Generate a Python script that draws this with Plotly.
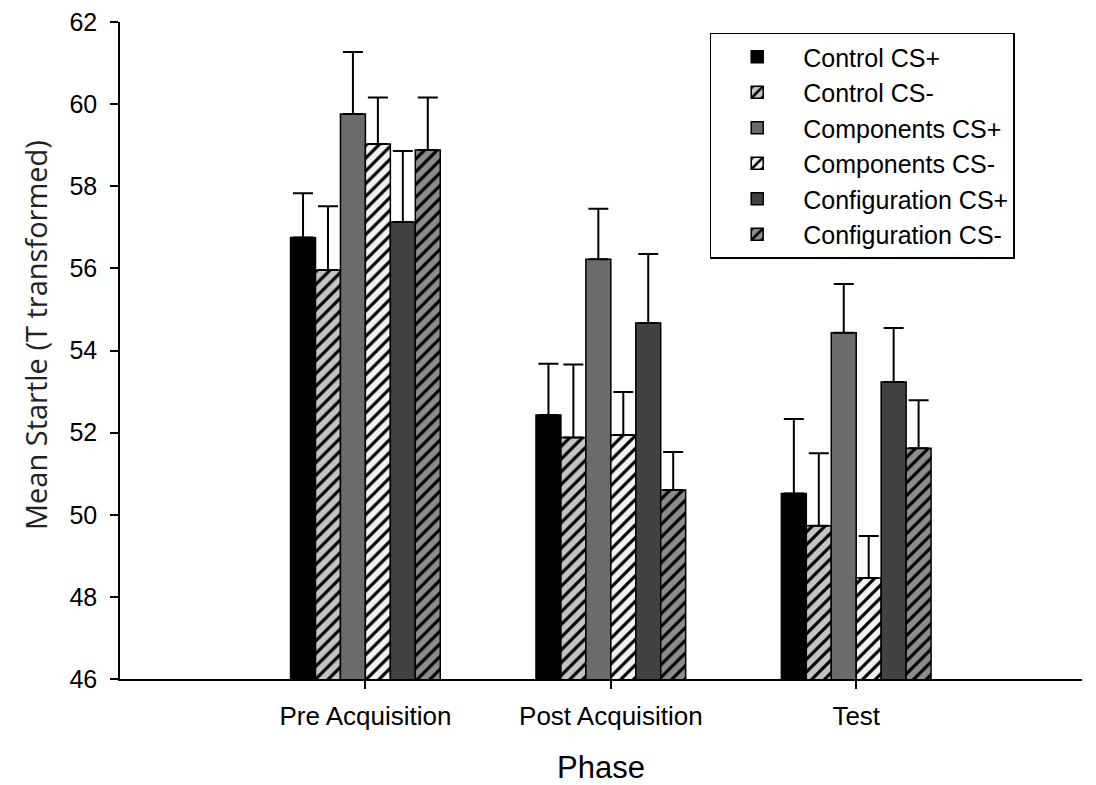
import plotly.graph_objects as go

phases = ["Pre Acquisition", "Post Acquisition", "Test"]
phase_pos = [0, 1, 2]

series_names = ["Control CS+", "Control CS-", "Components CS+",
                "Components CS-", "Configuration CS+", "Configuration CS-"]

control_cs_plus = [56.75, 52.43, 50.52]
control_cs_minus = [55.96, 51.88, 49.73]
components_cs_plus = [59.76, 56.22, 54.43]
components_cs_minus = [59.03, 51.94, 48.46]
configuration_cs_plus = [57.13, 54.67, 53.23]
configuration_cs_minus = [58.88, 50.60, 51.62]

control_cs_plus_err = [1.08, 1.25, 1.81]
control_cs_minus_err = [1.55, 1.78, 1.77]
components_cs_plus_err = [1.51, 1.23, 1.19]
components_cs_minus_err = [1.13, 1.05, 1.02]
configuration_cs_plus_err = [1.73, 1.68, 1.32]
configuration_cs_minus_err = [1.28, 0.93, 1.17]

y_ticks = [46, 48, 50, 52, 54, 56, 58, 60, 62]

means = [control_cs_plus, control_cs_minus, components_cs_plus,
         components_cs_minus, configuration_cs_plus, configuration_cs_minus]
errs = [control_cs_plus_err, control_cs_minus_err, components_cs_plus_err,
        components_cs_minus_err, configuration_cs_plus_err, configuration_cs_minus_err]

# style: (fill color, hatched?, hatch background)
styles = [
    ("#000000", False, None),
    ("#000000", True, "#c4c4c4"),
    ("#6b6b6b", False, None),
    ("#000000", True, "#f2f2f2"),
    ("#424242", False, None),
    ("#000000", True, "#8c8c8c"),
]

fig = go.Figure()
for name, m, e, (col, hatched, bg) in zip(series_names, means, errs, styles):
    marker = dict(color=col, line=dict(color="#000000", width=1.5))
    if hatched:
        marker["color"] = bg
        marker["pattern"] = dict(shape="/", fgcolor="#000000", bgcolor=bg,
                                 size=9, solidity=0.35, fillmode="replace")
    fig.add_trace(go.Bar(
        name=name, x=phase_pos, y=m, marker=marker,
        error_y=dict(type="data", array=e, arrayminus=[0] * len(e),
                     symmetric=False, color="#000000", thickness=2, width=10),
    ))

fig.update_layout(
    width=1096, height=785,
    barmode="group", bargap=0.39, bargroupgap=0,
    plot_bgcolor="white", paper_bgcolor="white",
    margin=dict(l=120, r=14, t=22, b=106),
    font=dict(family="Liberation Sans, Arial, sans-serif", color="#000000"),
    legend=dict(
        x=0.613, y=0.984, xanchor="left", yanchor="top",
        bordercolor="#000000", borderwidth=1.5, bgcolor="white",
        font=dict(size=25, family="Liberation Sans, Arial, sans-serif"),
        tracegroupgap=0, itemwidth=82,
    ),
    showlegend=True,
    annotations=[dict(
        text="Mean Startle (T transformed)", textangle=-90,
        xref="paper", yref="paper", x=-0.088, y=0.524,
        xanchor="center", yanchor="middle", showarrow=False,
        font=dict(size=29, family="Open Sans, Lato, sans-serif", color="#222222"),
    )],
)

fig.update_xaxes(
    range=[-1, 2.92], tickvals=phase_pos, ticktext=phases,
    showline=True, linecolor="#000000", linewidth=1.5,
    ticks="outside", ticklen=8, tickwidth=1.5, tickcolor="#000000",
    ticklabelstandoff=5, automargin=False,
    showgrid=False, zeroline=False,
    tickfont=dict(size=26),
    title=dict(text="Phase", font=dict(size=31), standoff=26),
)
fig.update_yaxes(
    range=[46, 62], tickvals=y_ticks,
    showline=True, linecolor="#000000", linewidth=1.5,
    ticks="outside", ticklen=8, tickwidth=1.5, tickcolor="#000000",
    ticklabelstandoff=8, automargin=False,
    showgrid=False, zeroline=False,
    tickfont=dict(size=25),
)

fig.write_html("out.html")
